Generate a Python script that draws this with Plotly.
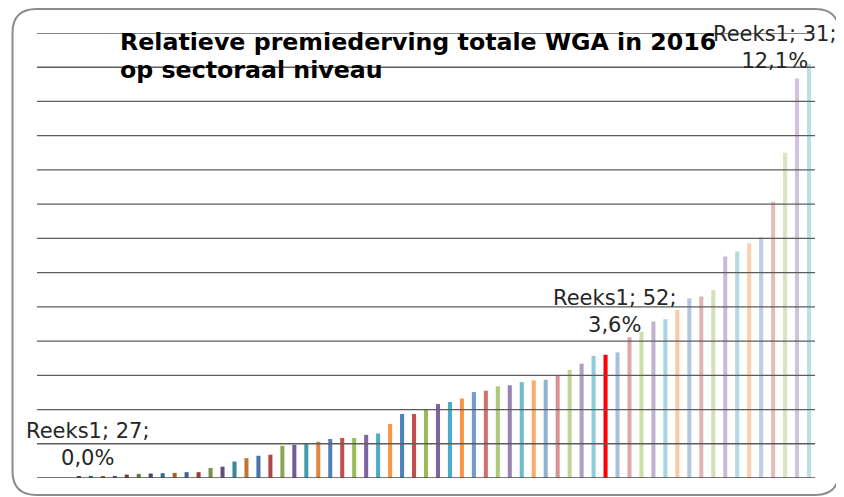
import plotly.graph_objects as go

# ---- data ----
series_name = "Reeks1"
# sector codes: only 27 (first), 52 (highlighted) and 31 (last) are legible
sectors = ["27", "1", "2", "3", "4", "5", "6", "7", "8", "9", "10", "11", "12", "13",
           "14", "15", "16", "17", "18", "19", "20", "21", "22", "23", "24", "25", "26",
           "28", "29", "30", "32", "33", "34", "35", "36", "37", "38", "39", "40", "41",
           "42", "43", "44", "45", "46", "47", "48", "52", "49", "50", "51", "53", "54",
           "55", "56", "57", "58", "59", "60", "61", "62", "63", "64", "65", "31"]
premiederving_pct = [0.0, 0.0, 0.0, 0.03, 0.03, 0.05, 0.05, 0.10, 0.12, 0.13, 0.14, 0.15,
                     0.17, 0.17, 0.29, 0.33, 0.48, 0.58, 0.65, 0.68, 0.94, 0.97, 1.00, 1.06,
                     1.14, 1.17, 1.17, 1.26, 1.30, 1.58, 1.87, 1.87, 1.99, 2.16, 2.22, 2.32,
                     2.51, 2.55, 2.68, 2.71, 2.80, 2.85, 2.87, 3.01, 3.16, 3.34, 3.57, 3.60,
                     3.67, 4.11, 4.27, 4.57, 4.64, 4.91, 5.25, 5.30, 5.49, 6.47, 6.62, 6.86,
                     7.03, 8.07, 9.50, 11.67, 12.10]
labelled_sectors = ["27", "52", "31"]
highlight_sector = "52"
title_lines = ["Relatieve premiederving totale WGA in 2016", "op sectoraal niveau"]
y_max_pct = 13
grid_steps = list(range(1, y_max_pct + 1))

# ---- style ----
accents = ["#4F81BD", "#C0504D", "#9BBB59", "#8064A2", "#4BACC6", "#F79646"]
block_mod = [-0.45, -0.35, -0.22, -0.1, 0.0, 0.0, 0.2, 0.38, 0.5, 0.56, 0.62]


def vary(hexc, m):
    r, g, b = int(hexc[1:3], 16), int(hexc[3:5], 16), int(hexc[5:7], 16)
    if m < 0:
        f = 1 + m
        r, g, b = r * f, g * f, b * f
    else:
        r, g, b = r + (255 - r) * m, g + (255 - g) * m, b + (255 - b) * m
    return "#%02x%02x%02x" % (int(round(r)), int(round(g)), int(round(b)))


colors = []
for i, s in enumerate(sectors):
    if s == highlight_sector:
        colors.append("#FF0000")
    else:
        colors.append(vary(accents[i % 6], block_mod[min(i // 6, len(block_mod) - 1)]))

# page offset (body margin) of the browser
OFF = 8
W, H = 844 - OFF, 497 - OFF
L, T = 37 - OFF, 33 - OFF
pw, ph = 778, 445
R, B = W - L - pw, H - T - ph


def px_x(p):  # screen pixel -> paper x
    return (p - OFF - L) / pw


def px_y(p):  # screen pixel -> paper y
    return (T + ph - (p - OFF)) / ph


fig = go.Figure()
fig.add_trace(go.Bar(
    x=sectors, y=premiederving_pct, name=series_name,
    marker=dict(color=colors, line=dict(width=0)),
    hovertemplate=series_name + "; %{x}; %{y:.1f}%<extra></extra>",
))

shapes = []
# gridlines drawn above the bars
for g in grid_steps:
    shapes.append(dict(type="line", xref="paper", yref="y", x0=0, x1=1, y0=g, y1=g,
                       line=dict(color="#5c5c5c", width=1.3), layer="above"))
shapes.append(dict(type="line", xref="paper", yref="y", x0=0, x1=1, y0=0, y1=0,
                   line=dict(color="#4d4d4d", width=1.6), layer="above"))

# rounded chart-area border
bx0, bx1, by0, by1, rad = px_x(12.5), px_x(839), px_y(9), px_y(495), 24
rx, ry = rad / pw, rad / ph
path = (f"M {bx0+rx},{by0} L {bx1-rx},{by0} Q {bx1},{by0} {bx1},{by0-ry} "
        f"L {bx1},{by1+ry} Q {bx1},{by1} {bx1-rx},{by1} L {bx0+rx},{by1} "
        f"Q {bx0},{by1} {bx0},{by1+ry} L {bx0},{by0-ry} Q {bx0},{by0} {bx0+rx},{by0} Z")
shapes.append(dict(type="path", xref="paper", yref="paper", path=path,
                   line=dict(color="#8c8c8c", width=2), layer="above"))

annotations = []
for k, line in enumerate(title_lines):
    annotations.append(dict(
        xref="paper", yref="paper", x=px_x(118), y=px_y(26 + 28 * k),
        xanchor="left", yanchor="top", text=f"<b>{line}</b>",
        showarrow=False, align="left",
        font=dict(family="DejaVu Sans", size=23.7, color="#000000"),
    ))

label_shift = {"27": (45, 6), "52": (9, 16), "31": (-34, -11)}
for s in labelled_sectors:
    i = sectors.index(s)
    v = premiederving_pct[i]
    dx, dy = label_shift[s]
    annotations.append(dict(
        x=i, y=v, xref="x", yref="y", xanchor="center", yanchor="bottom",
        xshift=dx, yshift=dy, showarrow=False, align="center",
        text=f"{series_name}; {s};<br>{v:.1f}%".replace(".", ","),
        font=dict(family="DejaVu Sans", size=21, color="#262626"),
    ))

fig.update_layout(
    width=W, height=H,
    margin=dict(l=L, r=R, t=T, b=B, pad=0),
    paper_bgcolor="white", plot_bgcolor="white",
    bargap=0.66, showlegend=False,
    shapes=shapes, annotations=annotations,
    xaxis=dict(type="category", range=[-0.5, len(sectors) - 0.5], autorange=False,
               showticklabels=False, showgrid=False, zeroline=False,
               showline=False, ticks="", fixedrange=True),
    yaxis=dict(range=[0, y_max_pct], autorange=False, showticklabels=False, showgrid=False,
               zeroline=False, showline=False, ticks="", fixedrange=True),
)

fig.write_html("out.html")
